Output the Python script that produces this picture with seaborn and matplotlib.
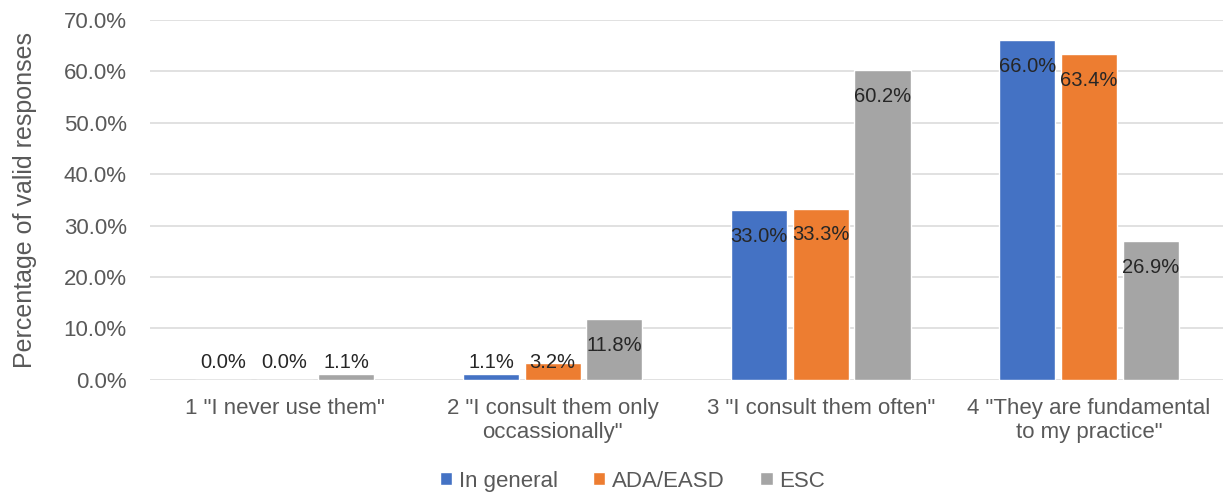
import matplotlib
matplotlib.use("Agg")
import matplotlib.pyplot as plt
import seaborn as sns
import pandas as pd
from matplotlib.ticker import FuncFormatter, MultipleLocator

categories = [
    '1 "I never use them"',
    '2 "I consult them only\noccassionally"',
    '3 "I consult them often"',
    '4 "They are fundamental\nto my practice"',
]
series_names = ["In general", "ADA/EASD", "ESC"]
in_general = [0.0, 1.1, 33.0, 66.0]
ada_easd = [0.0, 3.2, 33.3, 63.4]
esc = [1.1, 11.8, 60.2, 26.9]
colors = ["#4472C4", "#ED7D31", "#A5A5A5"]

rows = []
for name, vals in zip(series_names, [in_general, ada_easd, esc]):
    for cat, v in zip(categories, vals):
        rows.append({"category": cat, "series": name, "value": v})
df = pd.DataFrame(rows)

sns.set_style("white")
plt.rcParams["font.family"] = ["Liberation Sans", "DejaVu Sans"]

fig = plt.figure(figsize=(12.23, 4.94), dpi=100)
ax = fig.add_axes([0.123, 0.231, 0.877, 0.729])

sns.barplot(data=df, x="category", y="value", hue="series",
            palette=colors, width=0.69, gap=0.09, ax=ax,
            saturation=1, legend=True, errorbar=None)

ax.set_ylim(0, 70)
ax.yaxis.set_major_locator(MultipleLocator(10))
ax.yaxis.set_major_formatter(FuncFormatter(lambda v, p: f"{v:.1f}%"))
ax.grid(axis="y", color="#D9D9D9", linewidth=1.1)
ax.set_axisbelow(True)
for s in ax.spines.values():
    s.set_visible(False)
ax.tick_params(axis="both", length=0, colors="#595959", labelsize=16)
ax.tick_params(axis="y", pad=17)
ax.tick_params(axis="x", pad=13)
ax.set_xlabel("")
ax.set_ylabel("Percentage of valid responses", fontsize=18, color="#595959", labelpad=19)

# value labels: inside the bar end for tall bars, just above the baseline for short ones
for container in ax.containers:
    for bar in container:
        v = bar.get_height()
        x = bar.get_x() + bar.get_width() / 2
        if v >= 10:
            ax.annotate(f"{v:.1f}%", xy=(x, v), xytext=(0, -19), textcoords="offset points",
                        ha="center", va="center", fontsize=14.5, color="#262626")
        else:
            ax.annotate(f"{v:.1f}%", xy=(x, 0), xytext=(0, 12.5), textcoords="offset points",
                        ha="center", va="center", fontsize=14.5, color="#262626")

handles, labels = ax.get_legend_handles_labels()
ax.get_legend().remove()
fig.legend(handles, labels, loc="center", bbox_to_anchor=(0.517, 0.026), ncol=3,
           frameon=False, fontsize=16, labelcolor="#595959", handlelength=0.55,
           handleheight=0.55, handletextpad=0.3, columnspacing=1.6)

fig.savefig("out.png", dpi=100)
